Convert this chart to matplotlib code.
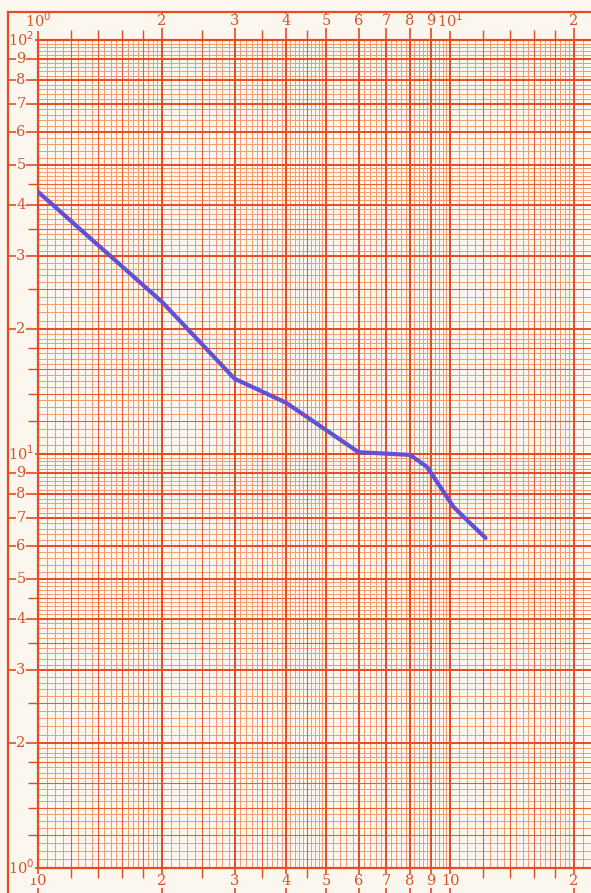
import numpy as np
import matplotlib
matplotlib.use("Agg")
import matplotlib.pyplot as plt

# curve
x_vals = [1.0, 2.0, 3.0, 4.0, 6.0, 8.0, 8.8, 10.2, 11.2, 12.2]
y_vals = [43.0, 23.3, 15.2, 13.3, 10.1, 9.95, 9.3, 7.45, 6.8, 6.27]

x_labels_top = ["10$^0$", "2", "3", "4", "5", "6", "7", "8", "9", "10$^1$", "2"]
x_labels_bot = ["10", "2", "3", "4", "5", "6", "7", "8", "9", "10", "2"]
x_label_pos = [1, 2, 3, 4, 5, 6, 7, 8, 9, 10, 20]
y_label_pos = [1, 2, 3, 4, 5, 6, 7, 8, 9, 10, 20, 30, 40, 50, 60, 70, 80, 90, 100]
y_labels = ["10$^0$", "2", "3", "4", "5", "6", "7", "8", "9", "10$^1$",
            "2", "3", "4", "5", "6", "7", "8", "9", "10$^2$"]

paper = "#fcf7ee"
red = "#e64b22"
light = "#f19a70"
txt = "#d4532a"
blue = "#6650d2"

W, H = 591, 893
fig = plt.figure(figsize=(W / 100, H / 100), dpi=100, facecolor=paper)
ax = fig.add_axes([38 / W, 25 / H, (W - 38) / W, 828 / H], facecolor=paper)
ax.set_xscale("log")
ax.set_yscale("log")
ax.set_xlim(1, 10 ** ((W - 38) / 412))
ax.set_ylim(1, 100)


def paper_lines(dec):
    fine, mid, heavy = [], [], []
    for d in dec:
        fine += list(d * np.arange(1.05, 1.99, 0.05))
        fine += list(d * np.arange(2.1, 4.99, 0.1))
        fine += list(d * np.arange(5.2, 9.99, 0.2))
        mid += list(d * np.array([1.2, 1.4, 1.6, 1.8, 2.5, 3.5, 4.5]))
        heavy += list(d * np.arange(1, 11))
    return fine, mid, heavy


fx, mx, hx = paper_lines([1, 10])
fy, my, hy = paper_lines([1, 10])
for v in fx:
    ax.axvline(v, color=light, lw=0.7, zorder=1)
for v in fy:
    ax.axhline(v, color=light, lw=0.7, zorder=1)
for v in mx:
    ax.axvline(v, color=red, lw=0.8, alpha=0.75, zorder=2)
for v in my:
    ax.axhline(v, color=red, lw=0.8, alpha=0.75, zorder=2)
for v in hx:
    ax.axvline(v, color=red, lw=1.4, zorder=3)
for v in hy:
    ax.axhline(v, color=red, lw=1.4, zorder=3)

ax.plot(x_vals, y_vals, color=blue, lw=3, solid_capstyle="round", zorder=5)

# ticks that run out through the margin labels
ax.set_xticks(x_label_pos)
ax.set_xticks([1.2, 1.4, 1.6, 1.8, 2.5, 3.5, 4.5, 12, 14, 16, 18], minor=True)
ax.set_yticks(y_label_pos)
ax.set_yticks([1.2, 1.4, 1.6, 1.8, 2.5, 3.5, 4.5, 12, 14, 16, 18, 25, 35, 45], minor=True)
ax.set_xticklabels([])
ax.set_yticklabels([])
ax.set_xticklabels([], minor=True)
ax.set_yticklabels([], minor=True)
ax.tick_params(which="major", axis="x", top=True, bottom=True, direction="out",
               length=21, width=1.2, color=red)
ax.tick_params(which="minor", axis="x", top=True, bottom=True, direction="out",
               length=7, width=1.0, color=red)
ax.tick_params(which="major", axis="y", left=True, direction="out",
               length=22, width=1.2, color=red)
ax.tick_params(which="minor", axis="y", left=True, direction="out",
               length=7, width=1.0, color=red)
for s in ["left", "top", "bottom"]:
    ax.spines[s].set_color(red)
    ax.spines[s].set_linewidth(1.6)
ax.spines["right"].set_visible(False)

fnt = dict(family="DejaVu Serif", color=txt, fontsize=10.5)
box = dict(facecolor=paper, edgecolor="none", pad=0.3)
xt = ax.get_xaxis_transform()
yt = ax.get_yaxis_transform()
for p, lab in zip(x_label_pos, x_labels_top):
    ax.text(p, 1 + 19 / 828, lab, transform=xt, ha="center", va="center",
            bbox=box, clip_on=False, **fnt)
for p, lab in zip(x_label_pos, x_labels_bot):
    ax.text(p, -13 / 828, lab, transform=xt, ha="center", va="center",
            bbox=box, clip_on=False, **fnt)
for p, lab in zip(y_label_pos, y_labels):
    ax.text(-17 / (W - 38), p, lab, transform=yt, ha="center", va="center",
            bbox=box, clip_on=False, **fnt)

# outer frame of the sheet
fig.add_artist(plt.Line2D([8 / W, 8 / W], [0, 1 - 12 / H], color=red, lw=1.6))
fig.add_artist(plt.Line2D([8 / W, 1], [1 - 12 / H, 1 - 12 / H], color=red, lw=1.6))

fig.savefig("out.png", dpi=100, facecolor=paper)
